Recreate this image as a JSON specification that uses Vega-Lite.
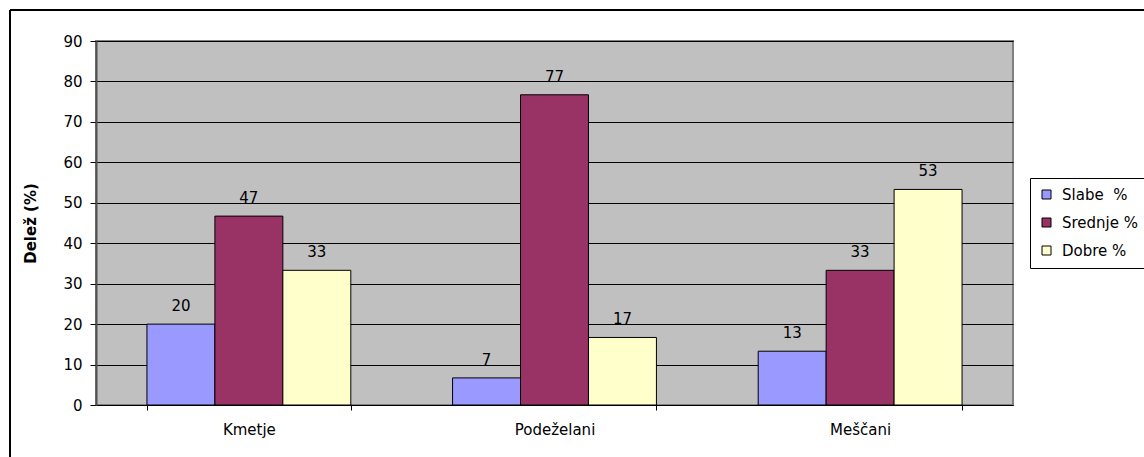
{
  "$schema": "https://vega.github.io/schema/vega-lite/v6.json",
  "width": 917,
  "height": 364,
  "autosize": {"type": "none"},
  "padding": {"left": 96, "top": 41, "right": 131, "bottom": 52},
  "background": "white",
  "config": {
    "font": "DejaVu Sans",
    "view": {"fill": "#C0C0C0", "stroke": "#808080", "strokeWidth": 2},
    "axis": {"labelFont": "DejaVu Sans", "labelFontSize": 15, "labelColor": "black", "titleFont": "DejaVu Sans"},
    "legend": {"labelFont": "DejaVu Sans", "labelFontSize": 15, "labelColor": "black"}
  },
  "data": {
    "values": [
      {"group": "Kmetje", "series": "Slabe\u00a0 %", "value": 20},
      {"group": "Kmetje", "series": "Srednje %", "value": 46.7},
      {"group": "Kmetje", "series": "Dobre %", "value": 33.3},
      {"group": "Podeželani", "series": "Slabe\u00a0 %", "value": 6.7},
      {"group": "Podeželani", "series": "Srednje %", "value": 76.7},
      {"group": "Podeželani", "series": "Dobre %", "value": 16.7},
      {"group": "Meščani", "series": "Slabe\u00a0 %", "value": 13.3},
      {"group": "Meščani", "series": "Srednje %", "value": 33.3},
      {"group": "Meščani", "series": "Dobre %", "value": 53.3}
    ]
  },
  "encoding": {
    "x": {
      "field": "group", "type": "nominal",
      "sort": ["Kmetje", "Podeželani", "Meščani"],
      "scale": {"paddingInner": 0.333, "paddingOuter": 0.1667},
      "axis": {
        "title": null, "labelAngle": 0, "tickBand": "extent",
        "domainColor": "black", "domainWidth": 1, "tickColor": "black", "tickSize": 5,
        "labelPadding": 12, "grid": false
      }
    },
    "xOffset": {
      "field": "series", "type": "nominal",
      "sort": ["Slabe\u00a0 %", "Srednje %", "Dobre %"],
      "scale": {"paddingInner": 0, "paddingOuter": 0}
    },
    "y": {
      "field": "value", "type": "quantitative",
      "scale": {"domain": [0, 90], "nice": false},
      "axis": {
        "title": "Delež (%)", "titleFontSize": 15, "titleFontWeight": "bold", "titleColor": "black",
        "titlePadding": 24,
        "values": [0, 10, 20, 30, 40, 50, 60, 70, 80, 90],
        "grid": true, "gridColor": "black", "gridWidth": 1, "gridOpacity": 1,
        "domainColor": "#505050", "domainWidth": 2, "tickColor": "black", "tickSize": 6,
        "labelPadding": 8
      }
    }
  },
  "layer": [
    {
      "mark": {"type": "rect", "fill": null, "stroke": "black", "strokeWidth": 1, "clip": false},
      "encoding": {
        "x": {"value": -86},
        "x2": {"value": 1200},
        "y": {"value": -31},
        "y2": {"value": 500},
        "xOffset": null
      }
    },
    {
      "mark": {"type": "bar", "stroke": "black", "strokeWidth": 1},
      "encoding": {
        "color": {
          "field": "series", "type": "nominal",
          "sort": ["Slabe\u00a0 %", "Srednje %", "Dobre %"],
          "scale": {"domain": ["Slabe\u00a0 %", "Srednje %", "Dobre %"], "range": ["#9999FF", "#993366", "#FFFFCC"]},
          "legend": {
            "title": null, "orient": "none", "legendX": 934, "legendY": 137,
            "strokeColor": "black", "fillColor": "white", "padding": 9,
            "symbolType": "square", "symbolSize": 81, "symbolStrokeColor": "black", "symbolStrokeWidth": 1,
            "labelOffset": 8, "rowPadding": 12
          }
        }
      }
    },
    {
      "mark": {"type": "text", "baseline": "alphabetic", "dy": -13, "fontSize": 15, "color": "black", "font": "DejaVu Sans"},
      "encoding": {
        "text": {"field": "value", "type": "quantitative", "format": ".0f"}
      }
    }
  ]
}
